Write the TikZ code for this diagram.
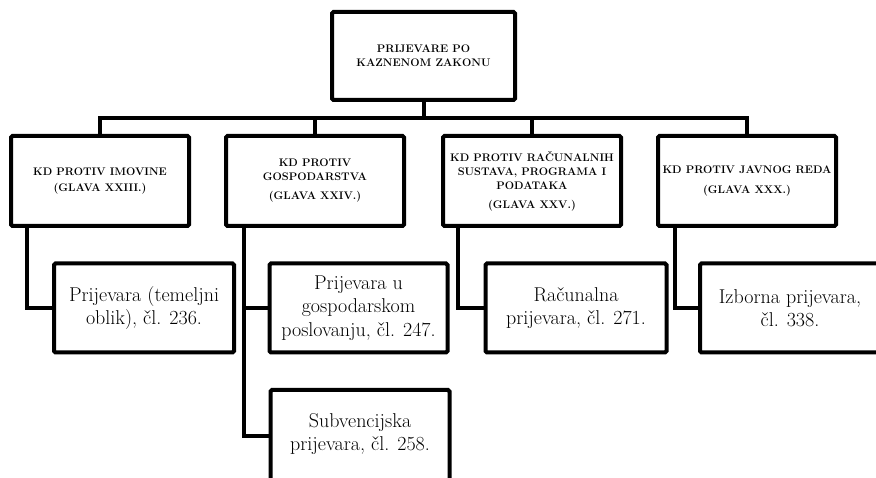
\documentclass[tikz,border=0pt]{standalone}
\begin{document}
\begin{tikzpicture}[x=1pt,y=-1pt,
  box/.style={draw=black,line width=4pt,rounded corners=1.5pt,fill=white,inner sep=0pt,align=center},
  headbox/.style={box,font=\bfseries\fontsize{11}{14}\selectfont},
  leafbox/.style={box,font=\fontsize{20}{23.3}\selectfont},
  conn/.style={draw=black,line width=4pt,line join=miter}]
\useasboundingbox (0,0) rectangle (876,478);
\clip (0,0) rectangle (876,478);
% top
\node[headbox,minimum width=183pt,minimum height=88pt] (top) at (423.5,56) {PRIJEVARE PO\\KAZNENOM ZAKONU};
% level 2
\node[headbox,minimum width=178pt,minimum height=90pt] (l2a) at (100,181) {KD PROTIV IMOVINE\\[1.5pt](GLAVA XXIII.)};
\node[headbox,minimum width=178pt,minimum height=90pt] (l2b) at (315,181) {KD PROTIV\\GOSPODARSTVA\\[5pt](GLAVA XXIV.)};
\node[headbox,minimum width=178pt,minimum height=90pt] (l2c) at (532,181) {KD PROTIV RAČUNALNIH\\SUSTAVA, PROGRAMA I\\PODATAKA\\[5pt](GLAVA XXV.)};
\node[headbox,minimum width=178pt,minimum height=90pt] (l2d) at (747,181) {KD PROTIV JAVNOG REDA\\[6pt](GLAVA XXX.)};
% level 3
\node[leafbox,minimum width=180pt,minimum height=89pt] (l3a) at (144,308) {Prijevara (temeljni\\oblik), čl. 236.};
\node[leafbox,minimum width=178pt,minimum height=89pt] (l3b) at (358.5,308) {Prijevara u\\gospodarskom\\poslovanju, čl. 247.};
\node[leafbox,minimum width=179pt,minimum height=92pt] (l3c) at (360,436) {};
\node[font=\fontsize{20}{23.3}\selectfont,align=center] (l3ct) at (360,434) {Subvencijska\\prijevara, čl. 258.};
\node[leafbox,minimum width=181pt,minimum height=89pt] (l3d) at (576,308) {Računalna\\prijevara, čl. 271.};
\node[leafbox,minimum width=180pt,minimum height=89pt] (l3e) at (790,308) {Izborna prijevara,\\čl. 338.};
% connectors
\coordinate (bus) at (0,118);
\draw[conn] (top.south) -- (top.south |- bus);
\draw[conn] (l2a.north) -- (l2a.north |- bus) -- (l2d.north |- bus) -- (l2d.north);
\draw[conn] (l2b.north) -- (l2b.north |- bus);
\draw[conn] (l2c.north) -- (l2c.north |- bus);
\coordinate (ca) at ([xshift=18pt]l2a.south west);
\coordinate (cb) at ([xshift=20pt]l2b.south west);
\coordinate (cc) at ([xshift=17pt]l2c.south west);
\coordinate (cd) at ([xshift=19pt]l2d.south west);
\draw[conn] (ca) |- (l3a.west);
\draw[conn] (cb) |- (l3c.west);
\draw[conn] (cb |- l3b.west) -- (l3b.west);
\draw[conn] (cc) |- (l3d.west);
\draw[conn] (cd) |- (l3e.west);
\end{tikzpicture}
\end{document}
